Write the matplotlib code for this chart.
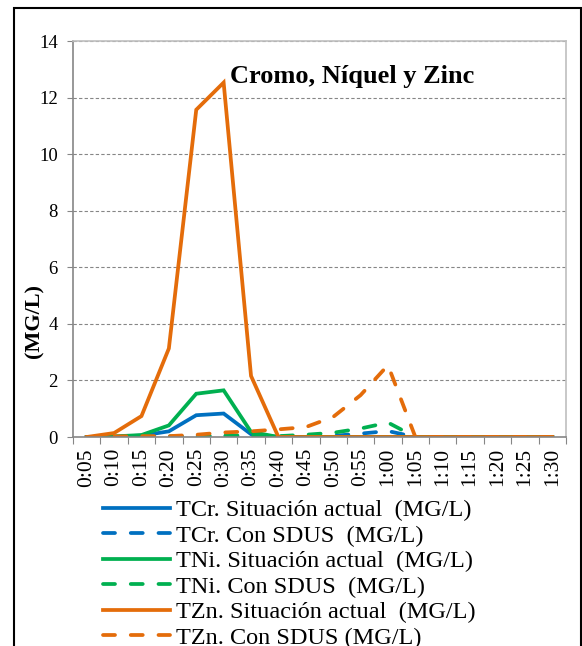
import numpy as np
import matplotlib
matplotlib.use("Agg")
import matplotlib.pyplot as plt
from matplotlib.patches import Rectangle

plt.rcParams['font.family'] = ['Liberation Serif', 'DejaVu Serif']

times = ["0:05", "0:10", "0:15", "0:20", "0:25", "0:30", "0:35", "0:40", "0:45",
         "0:50", "0:55", "1:00", "1:05", "1:10", "1:15", "1:20", "1:25", "1:30"]

cr_actual = [0, 0.01, 0.05, 0.2, 0.77, 0.83, 0.1, 0, 0, 0, 0, 0, 0, 0, 0, 0, 0, 0]
cr_sdus = [0, 0, 0.01, 0.01, 0.02, 0.03, 0.03, 0.01, 0.02, 0.04, 0.12, 0.21, 0, 0, 0, 0, 0, 0]
ni_actual = [0, 0.02, 0.07, 0.41, 1.53, 1.65, 0.18, 0, 0, 0, 0, 0, 0, 0, 0, 0, 0, 0]
ni_sdus = [0, 0, 0.02, 0.02, 0.03, 0.05, 0.06, 0.03, 0.08, 0.15, 0.3, 0.51, 0, 0, 0, 0, 0, 0]
zn_actual = [0, 0.14, 0.74, 3.13, 11.57, 12.53, 2.16, 0, 0, 0, 0, 0, 0, 0, 0, 0, 0, 0]
zn_sdus = [0, 0.02, 0.03, 0.03, 0.08, 0.16, 0.2, 0.27, 0.35, 0.71, 1.48, 2.54, 0, 0, 0, 0, 0, 0]

labels = ["TCr. Situación actual  (MG/L)", "TCr. Con SDUS  (MG/L)",
          "TNi. Situación actual  (MG/L)", "TNi. Con SDUS  (MG/L)",
          "TZn. Situación actual  (MG/L)", "TZn. Con SDUS (MG/L)"]

blue = "#0070C0"
green = "#00B050"
orange = "#E46C0A"

fig = plt.figure(figsize=(5.82, 6.46), dpi=100)
ax = fig.add_axes([73/582, 1-437/646, (566-73)/582, (437-41)/646])

x = np.arange(len(times))
lw = 2.7
dash = (3.2, 4.2)
series = [(cr_actual, blue, '-'), (cr_sdus, blue, '--'),
          (ni_actual, green, '-'), (ni_sdus, green, '--'),
          (zn_actual, orange, '-'), (zn_sdus, orange, '--')]
handles = []
for (vals, col, ls), lab in zip(series, labels):
    if ls == '-':
        h, = ax.plot(x, vals, color=col, lw=lw, label=lab, solid_joinstyle='miter')
    else:
        h, = ax.plot(x, vals, color=col, lw=lw, label=lab, dashes=dash,
                     dash_capstyle='round')
    handles.append(h)

ax.set_xlim(-0.5, len(times) - 0.5)
ax.set_ylim(0, 14)
ax.set_yticks(np.arange(0, 15, 2))
ax.tick_params(axis='y', labelsize=13.5, length=4, color='#868686', pad=7)
ax.yaxis.grid(True, color='#868686', linestyle=(0, (3, 2)), lw=0.8)
ax.set_axisbelow(True)

ax.set_xticks(np.arange(-0.5, len(times), 1))
ax.set_xticklabels([])
ax.set_xticks(x, minor=True)
ax.set_xticklabels(times, minor=True, rotation=90, fontsize=15.5)
ax.tick_params(axis='x', which='major', length=5, color='#868686')
ax.tick_params(axis='x', which='minor', length=0, pad=8)

ax.spines['left'].set_color('#868686')
ax.spines['bottom'].set_color('#868686')
ax.spines['top'].set_color('#BFBFBF')
ax.spines['right'].set_color('#BFBFBF')
for s in ax.spines.values():
    s.set_linewidth(1.2)

ax.text((230-73)/493, 0.91, "Cromo, Níquel y Zinc", transform=ax.transAxes,
        fontsize=19, fontweight='bold', ha='left', va='center')
fig.text(34/582, 1-321/646, "(MG/L)", rotation=90, fontsize=16,
         fontweight='bold', ha='center', va='center')

fig.legend(handles=handles, labels=labels, loc='upper left',
           bbox_to_anchor=(103/582, 1-499/646), frameon=False, fontsize=17.5,
           handlelength=2.75, handletextpad=0.25, labelspacing=0.145,
           borderaxespad=0, borderpad=0)

fig.patches.append(Rectangle((14/582, -0.05), (581-14)/582, 1.05-8/646,
                             transform=fig.transFigure, fill=False,
                             edgecolor='black', lw=1.5, clip_on=False))

fig.savefig("out.png", dpi=100)
